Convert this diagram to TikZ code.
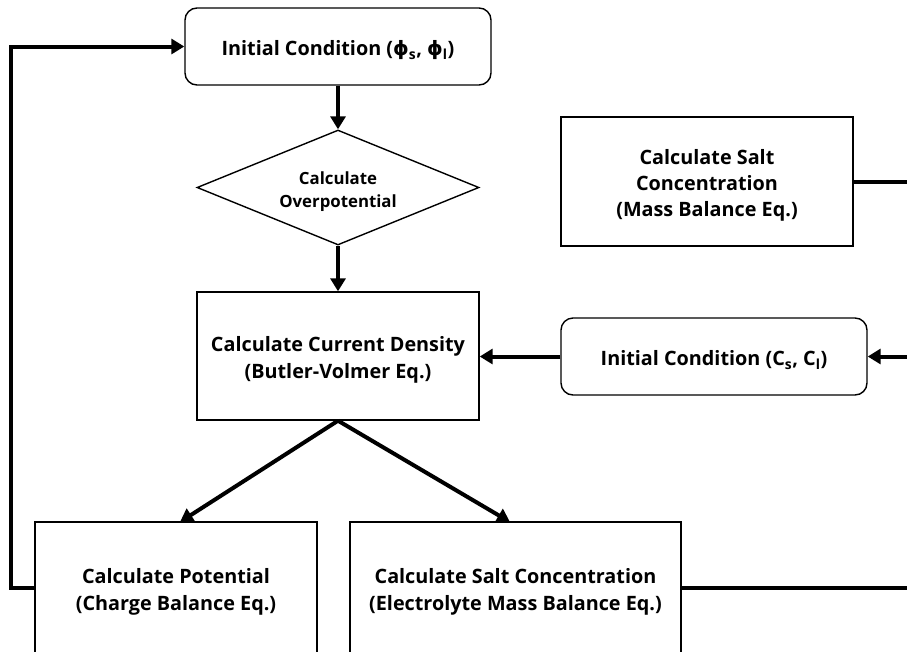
\documentclass[tikz,border=0pt]{standalone}
\usepackage{fontspec}
\setmainfont{Open Sans}
\newfontfamily\phifont{DejaVu Sans}
\newcommand{\myphi}{{\phifont ϕ}}
\newcommand{\tx}[1]{\raisebox{-4pt}[\height][\depth]{\begin{tabular}{@{}c@{}}#1\end{tabular}}}
\usetikzlibrary{arrows.meta,shapes.geometric}
\begin{document}
\begin{tikzpicture}[x=1pt,y=-1pt,
  box/.style={draw,line width=1.4pt,fill=white,align=center,inner sep=0pt,font=\fontsize{19.8}{27}\selectfont\bfseries},
  rbox/.style={box,rounded corners=12pt},
  conn/.style={line width=4pt,-{Triangle[length=13pt,width=15pt]}},
  plain/.style={line width=4pt}]
\clip (0,0) rectangle (907,651);
\fill[white] (0,0) rectangle (907,651);
% nodes
\node[rbox,minimum width=306pt,minimum height=77pt] (ic1) at (338,46.5) {\tx{Initial Condition (\myphi\textsubscript{s}, \myphi\textsubscript{l})}};
\node[draw,line width=1.4pt,fill=white,diamond,shape aspect=2.45,inner sep=0pt,minimum width=282pt,minimum height=115pt,align=center,font=\fontsize{16.8}{23}\selectfont\bfseries] (ovp) at (338,187.5) {\tx{Calculate\\Overpotential}};
\node[box,minimum width=282pt,minimum height=128pt] (cur) at (338,356) {\tx{Calculate Current Density\\(Butler-Volmer Eq.)}};
\node[box,minimum width=292pt,minimum height=129pt,font=\fontsize{19.8}{26}\selectfont\bfseries] (mass) at (707,181.5) {\tx{Calculate Salt\\Concentration\\(Mass Balance Eq.)}};
\node[rbox,minimum width=306pt,minimum height=77pt] (ic2) at (714,356.5) {\tx{Initial Condition (C\textsubscript{s}, C\textsubscript{l})}};
\node[box,minimum width=282pt,minimum height=132pt] (pot) at (176,588) {\tx{Calculate Potential\\(Charge Balance Eq.)}};
\node[box,minimum width=331pt,minimum height=132pt] (salt) at (515.5,588) {\tx{Calculate Salt Concentration\\(Electrolyte Mass Balance Eq.)}};
% edge coordinates
\coordinate (eA) at (907,181.5);
\coordinate (eB) at (907,356.5);
\coordinate (eC) at (907,588);
\coordinate (pA) at (180,522);
\coordinate (pB) at (510,522);
% connectors
\draw[conn] (ic1.south) -- (ovp.north);
\draw[conn] (ovp.south) -- (cur.north);
\draw[conn] (ic2.west) -- (cur.east |- ic2.west);
\draw[conn] (eB) -- (ic2.east);
\draw[plain] (mass.east) -- (eA);
\draw[plain] (salt.east) -- (eC);
\draw[conn] (cur.south) -- (pA);
\draw[conn] (cur.south) -- (pB);
\draw[conn] (pot.west) -- ++(-23,0) |- (ic1.west);
\end{tikzpicture}
\end{document}
